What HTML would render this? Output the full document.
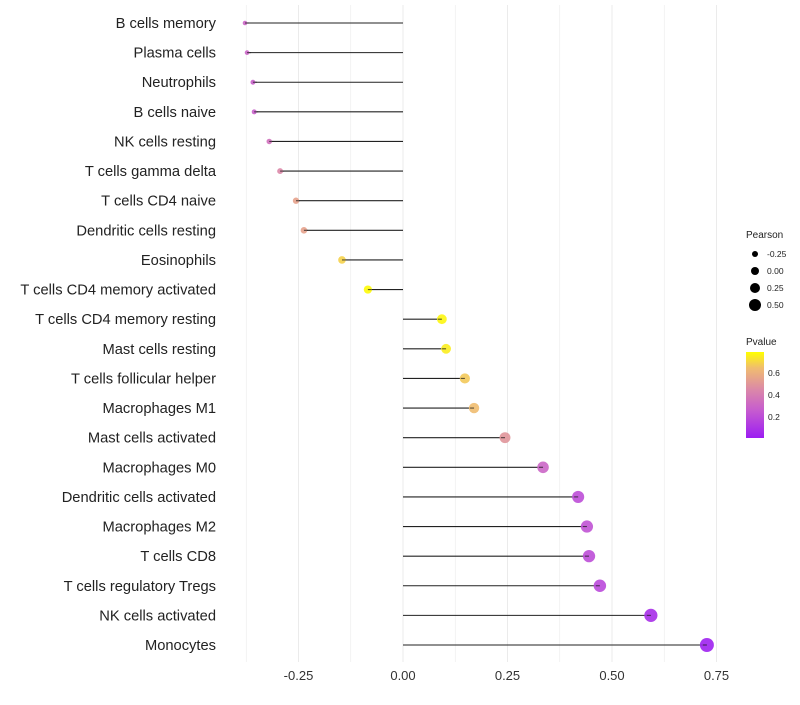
<!DOCTYPE html>
<html><head><meta charset="utf-8"><style>
body{margin:0;background:#fff;font-family:"Liberation Sans",sans-serif}
</style></head><body>
<svg id="c" width="800" height="700" xmlns="http://www.w3.org/2000/svg" font-family="Liberation Sans, sans-serif"></svg>
<script>
const categories=["B cells memory","Plasma cells","Neutrophils","B cells naive","NK cells resting","T cells gamma delta","T cells CD4 naive","Dendritic cells resting","Eosinophils","T cells CD4 memory activated","T cells CD4 memory resting","Mast cells resting","T cells follicular helper","Macrophages M1","Mast cells activated","Macrophages M0","Dendritic cells activated","Macrophages M2","T cells CD8","T cells regulatory  Tregs","NK cells activated","Monocytes"];
const pearson=[-0.378,-0.373,-0.359,-0.356,-0.32,-0.294,-0.256,-0.237,-0.146,-0.084,0.093,0.103,0.148,0.17,0.244,0.335,0.419,0.44,0.445,0.471,0.593,0.727];
const pvalue=[0.3,0.3,0.28,0.28,0.35,0.45,0.55,0.55,0.7,0.79,0.78,0.76,0.68,0.65,0.5,0.3,0.2,0.22,0.2,0.18,0.07,0.02];
const xTicks=[-0.25,0,0.25,0.5,0.75];
const xTickLabels=["-0.25","0.00","0.25","0.50","0.75"];
const sizeLegend=[-0.25,0,0.25,0.5];
const sizeLegendLabels=["-0.25","0.00","0.25","0.50"];
const pTicks=[0.2,0.4,0.6];

const NS="http://www.w3.org/2000/svg",svg=document.getElementById('c');
const x=v=>403+v*418;
const y=i=>23+i*(622/21);
const r=v=>Math.sqrt(Math.max(1,20.2+39.5*v));
const stops=[[0,[156,29,242]],[0.25,[197,90,208]],[0.45,[219,136,168]],[0.65,[240,188,112]],[0.8,[255,255,0]]];
function col(p){p=Math.max(0,Math.min(0.8,p));for(let k=1;k<stops.length;k++){if(p<=stops[k][0]){const a=stops[k-1],b=stops[k],t=(p-a[0])/(b[0]-a[0]);const c=a[1].map((u,j)=>Math.round(u+(b[1][j]-u)*t));return `rgb(${c})`;}}return 'rgb(255,255,0)';}
function el(t,a,txt){const e=document.createElementNS(NS,t);for(const k in a)e.setAttribute(k,a[k]);if(txt!==undefined)e.textContent=txt;svg.appendChild(e);return e;}
for(let v=-0.375;v<=0.76;v+=0.125){const g=el('line',{x1:x(v),x2:x(v),y1:5,y2:662,stroke:'#ebebeb','stroke-width':Math.abs((v*8)%2)<0.01?1:0.6});

}
xTicks.forEach((v,i)=>{const t=el('text',{x:x(v),y:680,'font-size':13,'text-anchor':'middle',fill:'#333'},xTickLabels[i]);

});
categories.forEach((c,i)=>{
const t=el('text',{x:216,y:y(i)+5,'font-size':14.7,'text-anchor':'end',fill:'#222'},c);


const l=el('line',{x1:x(0),x2:x(pearson[i]),y1:y(i),y2:y(i),stroke:'#222','stroke-width':1.1});


const p=el('circle',{cx:x(pearson[i]),cy:y(i),r:r(pearson[i]),fill:col(pvalue[i]),'fill-opacity':0.9});


const l2=el('line',{x1:x(pearson[i])-(pearson[i]>0?4:-4),x2:x(pearson[i]),y1:y(i),y2:y(i),stroke:'#222','stroke-width':1.1,'stroke-opacity':0.7});


});
let t=el('text',{x:746,y:238,'font-size':10,fill:'#222'},'Pearson');


sizeLegend.forEach((v,i)=>{const yy=254+i*17;
const c=el('circle',{cx:755,cy:yy,r:[3,4,5,6][i],fill:'#000'});


const tt=el('text',{x:767,y:yy+3,'font-size':8.5,fill:'#222'},sizeLegendLabels[i]);

});
t=el('text',{x:746,y:345,'font-size':10,fill:'#222'},'Pvalue');


const defs=el('defs',{});const lg=document.createElementNS(NS,'linearGradient');lg.setAttribute('id','g');lg.setAttribute('x1',0);lg.setAttribute('y1',1);lg.setAttribute('x2',0);lg.setAttribute('y2',0);
stops.forEach(s=>{const st=document.createElementNS(NS,'stop');st.setAttribute('offset',s[0]/0.8);st.setAttribute('stop-color',`rgb(${s[1]})`);lg.appendChild(st);});defs.appendChild(lg);
const py=p=>438-(p-0.01)*(86/0.78);
const bar=el('rect',{x:746,y:352,width:18,height:86,fill:'url(#g)'});


pTicks.forEach(p=>{const tt=el('text',{x:768,y:py(p)+3,'font-size':8.5,fill:'#222'},String(p));

});
</script>
</body></html>
